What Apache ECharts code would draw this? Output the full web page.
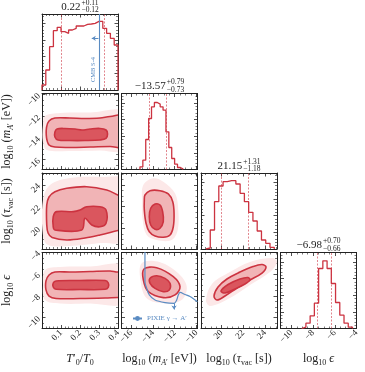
<!DOCTYPE html>
<html>
<head>
<meta charset="utf-8">
<script src="https://cdn.jsdelivr.net/npm/echarts@6/dist/echarts.min.js"></script>
<style>
  html, body { margin: 0; padding: 0; background: #fff; }
  #chart { width: 365px; height: 372px; }
</style>
</head>
<body>
<div id="chart"></div>
<script>
// ---- numbers ----
const medianText = ["0.22", "−13.57", "21.15", "−6.98"];
const medians = [0.22, -13.57, 21.15, -6.98];
const errPlus = [0.11, 0.79, 1.31, 0.70];
const errMinus = [0.12, 0.73, 1.18, 0.66];

// 1D histograms: first bin edge, bin width, heights
const tHistStart = 0, tHistWidth = 0.02;
const tHist = [15, 60, 130, 178, 188, 175, 170, 180, 185, 192, 192, 197, 198, 200, 206, 206, 185, 170, 155, 135];
const mHistStart = -15.2, mHistWidth = 0.266;
const mHist = [8, 28, 90, 153, 188, 201, 196, 188, 178, 113, 66, 33, 16, 6, 1];
const tauHistStart = 18.56, tauHistWidth = 0.393;
const tauHist = [3, 57, 142, 189, 202, 205, 205, 195, 167, 142, 110, 84, 54, 27, 17, 5];
const epsHistStart = -9.05, epsHistWidth = 0.39;
const epsHist = [4, 16, 38, 76, 180, 203, 180, 135, 78, 40, 16, 4];

// 2D contours (outer = 2 sigma, inner = 1 sigma, halo = cloud of samples)
const haloTM = [[0.437,-11.60],[0.253,-11.65],[0.095,-11.70],[0.016,-11.97],[0.005,-12.80],[0.005,-14.37],[0.026,-15.10],[0.147,-15.20],[0.305,-15.15],[0.437,-15.10]];
const outerTM = [[0.437,-11.97],[0.358,-12.02],[0.305,-12.16],[0.226,-12.20],[0.147,-12.16],[0.068,-12.16],[0.037,-12.43],[0.024,-12.99],[0.024,-14.00],[0.037,-14.64],[0.068,-14.83],[0.147,-14.87],[0.253,-14.83],[0.358,-14.78],[0.437,-14.78]];
const innerTM = [[0.068,-13.45],[0.079,-13.17],[0.121,-13.12],[0.174,-13.17],[0.211,-13.26],[0.253,-13.17],[0.305,-13.12],[0.337,-13.26],[0.345,-13.63],[0.337,-14.04],[0.305,-14.18],[0.226,-14.23],[0.147,-14.23],[0.084,-14.18],[0.068,-13.91]];

const haloTTau = [[0.437,24.46],[0.305,24.73],[0.147,24.64],[0.042,24.0],[0.005,22.61],[0.005,19.39],[0.032,18.47],[0.147,18.38],[0.305,18.65],[0.437,18.93]];
const outerTTau = [[0.437,22.80],[0.4,23.07],[0.341,23.53],[0.235,23.84],[0.130,23.69],[0.068,23.38],[0.037,22.89],[0.025,22.15],[0.025,20.31],[0.032,19.57],[0.053,19.16],[0.130,18.93],[0.226,19.11],[0.305,19.39],[0.4,19.80],[0.437,19.94]];
const innerTTau = [[0.068,19.85],[0.209,19.85],[0.226,20.93],[0.262,20.31],[0.305,20.15],[0.337,20.47],[0.337,21.69],[0.305,21.99],[0.235,21.99],[0.200,21.69],[0.165,21.54],[0.077,21.54],[0.059,21.08],[0.059,20.15]];

const haloTEps = [[0.437,-5.24],[0.253,-5.29],[0.095,-5.34],[0.016,-5.61],[0.005,-6.99],[0.016,-8.38],[0.095,-8.70],[0.253,-8.70],[0.437,-8.65]];
const outerTEps = [[0.437,-5.66],[0.4,-5.80],[0.358,-5.70],[0.253,-5.75],[0.147,-5.80],[0.068,-5.80],[0.037,-6.07],[0.021,-6.62],[0.021,-7.45],[0.037,-8.01],[0.074,-8.24],[0.2,-8.24],[0.332,-8.19],[0.4,-8.14],[0.437,-8.14]];
const innerTEps = [[0.059,-6.81],[0.074,-6.62],[0.2,-6.58],[0.332,-6.58],[0.349,-6.81],[0.349,-7.18],[0.332,-7.39],[0.2,-7.41],[0.074,-7.39],[0.059,-7.18]];

const haloMTau = [[-14.89,24.0],[-13.97,24.61],[-13.05,24.30],[-11.97,23.23],[-11.67,21.69],[-11.72,19.85],[-12.28,18.93],[-13.66,18.93],[-14.58,19.39],[-14.95,20.77],[-15.01,22.61]];
const outerMTau = [[-14.74,23.07],[-14.27,23.47],[-13.35,23.47],[-12.59,23.17],[-12.18,22.46],[-12.06,21.39],[-12.13,20.15],[-12.43,19.39],[-13.05,19.18],[-13.81,19.30],[-14.34,19.69],[-14.64,20.47],[-14.80,21.69],[-14.80,22.61]];
const innerMTau = [[-14.21,21.85],[-13.81,22.24],[-13.35,22.15],[-13.11,21.54],[-13.05,20.61],[-13.35,20.01],[-13.81,19.91],[-14.21,20.31],[-14.34,21.08]];

const haloMEps = [[-15.04,-4.99],[-13.35,-4.90],[-11.67,-5.92],[-10.89,-7.15],[-11.36,-8.38],[-13.05,-8.68],[-14.58,-8.22],[-15.13,-6.69]];
const outerMEps = [[-14.83,-5.52],[-13.66,-5.40],[-12.13,-6.23],[-11.51,-7.15],[-11.97,-7.91],[-13.05,-8.16],[-14.43,-7.61],[-14.89,-6.53]];
const innerMEps = [[-14.27,-6.38],[-13.66,-6.14],[-12.89,-6.38],[-12.43,-6.84],[-12.50,-7.45],[-13.05,-7.61],[-13.81,-7.30],[-14.27,-6.84]];

const haloTauEps = [[18.56,-8.38],[19.11,-6.90],[20.77,-5.80],[22.61,-4.88],[24.64,-4.51],[25.10,-4.88],[24.46,-5.80],[22.61,-6.99],[20.77,-8.19],[18.93,-8.93]];
const outerTauEps = [[19.30,-8.01],[19.67,-7.18],[20.49,-6.44],[21.69,-5.80],[22.89,-5.29],[23.72,-5.11],[24.09,-5.34],[23.72,-5.89],[22.61,-6.53],[21.42,-7.27],[20.31,-8.01],[19.57,-8.38]];
const innerTauEps = [[19.94,-7.55],[20.59,-6.95],[21.69,-6.44],[22.43,-6.30],[22.61,-6.53],[22.15,-6.90],[21.23,-7.36],[20.31,-7.73]];

// PIXIE gamma -> A' bound in the (m, eps) panel
const pixieM = [-14.74, -14.74, -14.58, -14.34, -13.81, -12.89, -12.06, -11.82, -11.67, -11.51, -11.05, -10.59, -9.90];
const pixieEps = [-3.77, -6.72, -7.30, -7.91, -8.38, -8.62, -8.68, -8.38, -7.91, -7.68, -7.87, -8.05, -8.53];
const pixieArrow = [[-12.06, -8.68], [-12.06, -9.25]];

// CMB S-4 line on T0'/T0
const cmbS4 = 0.3;
const cmbArrow = [[0.297, 155], [0.262, 155]];

// ---- styling / layout ----
const FONT = "'Liberation Serif', 'DejaVu Serif', serif";
const RED = "#cc3340";
const BLUE = "#5a8bc2";
const INK = "#222";
const LEFTS = [42, 121.5, 201, 280.5];
const TOPS = [14, 93.5, 173, 252.5];
const SIZE = 76;

const ranges = [
  { min: 0, max: 0.4, interval: 0.1, step: 0.1, minor: 5, digits: 1 },
  { min: -16.9, max: -9.9, splitNumber: 4, step: 2, minor: 4, digits: 0 },
  { min: 18.1, max: 25.1, splitNumber: 4, step: 2, minor: 4, digits: 0 },
  { min: -11, max: -4, splitNumber: 4, step: 2, minor: 4, digits: 0 },
];
const diagRange = { min: 0, max: 228, splitNumber: 4, minor: 5 };

const rich = {
  n: { fontFamily: FONT, fontSize: 12, lineHeight: 16, color: INK },
  i: { fontFamily: FONT, fontSize: 12, lineHeight: 16, fontStyle: "italic", color: INK },
  s: { fontFamily: FONT, fontSize: 8, lineHeight: 8, verticalAlign: "bottom", color: INK },
  si: { fontFamily: FONT, fontSize: 8, lineHeight: 8, verticalAlign: "bottom", fontStyle: "italic", color: INK },
};
const names = [
  "{i|T}{n|′}{s|0}{n|/}{i|T}{s|0}",
  "{n|log}{s|10}{n| (}{i|m}{si|A}{s|′}{n| [eV])}",
  "{n|log}{s|10}{n| (}{i|τ}{s|vac}{n| [s])}",
  "{n|log}{s|10}{n| }{i|ϵ}",
];

function fmt(r) {
  return (v) => {
    const q = v / r.step;
    if (Math.abs(q - Math.round(q)) > 1e-6) return "";
    return v.toFixed(r.digits).replace("-", "−");
  };
}

function axis(r, gridIndex, position, showLabels, name) {
  const isY = position === "left" || position === "right";
  return {
    type: "value",
    gridIndex,
    position,
    min: r.min,
    max: r.max,
    interval: r.interval,
    splitNumber: r.splitNumber,
    axisLine: { show: true, onZero: false, lineStyle: { color: INK, width: 1 } },
    axisTick: { show: true, inside: true, length: 3.5, lineStyle: { color: INK, width: 0.8 } },
    minorTick: { show: true, splitNumber: r.minor, length: 2, lineStyle: { color: INK, width: 0.6 } },
    splitLine: { show: false },
    axisLabel: {
      show: showLabels,
      rotate: 45,
      margin: 3,
      fontFamily: FONT,
      fontSize: 9,
      color: INK,
      showMinLabel: false,
      formatter: r.step ? fmt(r) : undefined,
    },
    name: name || "",
    nameLocation: "middle",
    nameGap: isY ? 27 : 22,
    nameTextStyle: { rich },
  };
}

function stepData(start, width, heights) {
  const pts = [[start, 0]];
  heights.forEach((h, k) => pts.push([start + k * width, h]));
  const end = start + heights.length * width;
  pts.push([end, heights[heights.length - 1]], [end, 0]);
  return pts;
}

const hists = [
  stepData(tHistStart, tHistWidth, tHist),
  stepData(mHistStart, mHistWidth, mHist),
  stepData(tauHistStart, tauHistWidth, tauHist),
  stepData(epsHistStart, epsHistWidth, epsHist),
];

const HALO = "#fce8e8", MID = "#f1b4b6", CORE = "#da565e";
const panels2d = {
  "1,0": [haloTM, outerTM, innerTM],
  "2,0": [haloTTau, outerTTau, innerTTau],
  "3,0": [haloTEps, outerTEps, innerTEps],
  "2,1": [haloMTau, outerMTau, innerMTau],
  "3,1": [haloMEps, outerMEps, innerMEps],
  "3,2": [haloTauEps, outerTauEps, innerTauEps],
};

const grids = [], xAxes = [], yAxes = [], series = [], graphics = [];
const gridOf = {};

for (let i = 0; i < 4; i++) {
  for (let j = 0; j <= i; j++) {
    const g = grids.length;
    gridOf[i + "," + j] = g;
    grids.push({ left: LEFTS[j], top: TOPS[i], width: SIZE, height: SIZE });
    const bottomRow = i === 3;
    xAxes.push(axis(ranges[j], g, "bottom", bottomRow, bottomRow ? names[j] : ""));
    xAxes.push(axis(ranges[j], g, "top", false));
    const yr = i === j ? diagRange : ranges[i];
    const leftCol = j === 0 && i > 0;
    yAxes.push(axis(yr, g, "left", leftCol, leftCol ? names[i] : ""));
    yAxes.push(axis(yr, g, "right", false));
  }
}

const ctx = document.createElement("canvas").getContext("2d");
function textW(str, size) {
  ctx.font = size + "px " + FONT;
  return ctx.measureText(str).width;
}

// diagonal histograms
for (let k = 0; k < 4; k++) {
  const g = gridOf[k + "," + k];
  const lo = medians[k] - errMinus[k];
  const hi = medians[k] + errPlus[k];
  const marks = [
    { xAxis: lo, lineStyle: { color: RED, width: 0.7, type: [2, 1.5], opacity: 0.85 } },
    { xAxis: hi, lineStyle: { color: RED, width: 0.7, type: [2, 1.5], opacity: 0.85 } },
  ];
  if (k === 0) {
    marks.push({
      xAxis: cmbS4,
      lineStyle: { color: BLUE, width: 1.1, type: "solid" },
      label: {
        show: true,
        formatter: "CMB S-4",
        position: "insideStartTop",
        distance: [8, 2],
        color: BLUE,
        fontFamily: FONT,
        fontSize: 6.5,
      },
    });
    marks.push([
      { coord: cmbArrow[0], symbol: "none", lineStyle: { color: BLUE, width: 1, type: "solid" } },
      { coord: cmbArrow[1], symbol: "arrow", symbolSize: 4 },
    ]);
  }
  series.push({
    type: "line",
    xAxisIndex: 2 * g,
    yAxisIndex: 2 * g,
    data: hists[k],
    step: "end",
    symbol: "none",
    silent: true,
    lineStyle: { color: RED, width: 1.3 },
    z: 3,
    markLine: {
      silent: true,
      symbol: ["none", "none"],
      label: { show: false },
      animation: false,
      data: marks,
    },
  });

  // title: median with +/- errors
  const top = TOPS[k];
  const cx = LEFTS[k] + SIZE / 2;
  const sup = "+" + errPlus[k].toFixed(2);
  const sub = "−" + errMinus[k].toFixed(2);
  const w1 = textW(medianText[k], 11);
  const w2 = Math.max(textW(sup, 7.5), textW(sub, 7.5));
  const x0 = cx - (w1 + 1 + w2) / 2;
  const mk = (txt, x, y, size) => ({
    type: "text",
    x, y,
    silent: true,
    style: {
      text: txt,
      font: size + "px " + FONT,
      fill: INK,
      align: "left",
      verticalAlign: "middle",
      textAlign: "left",
      textVerticalAlign: "middle",
    },
  });
  graphics.push(mk(medianText[k], x0, top - 7, 11));
  graphics.push(mk(sup, x0 + w1 + 1, top - 11, 7.5));
  graphics.push(mk(sub, x0 + w1 + 1, top - 3.5, 7.5));
}

// 2D panels
Object.keys(panels2d).forEach((key) => {
  const g = gridOf[key];
  const [halo, outer, inner] = panels2d[key];
  const layers = [
    { pts: halo, fill: HALO },
    { pts: outer, fill: MID, stroke: RED },
    { pts: inner, fill: CORE, stroke: RED },
  ];
  series.push({
    type: "custom",
    coordinateSystem: "cartesian2d",
    xAxisIndex: 2 * g,
    yAxisIndex: 2 * g,
    silent: true,
    z: 2,
    data: layers.map((L, idx) => {
      const cxv = L.pts.reduce((s, p) => s + p[0], 0) / L.pts.length;
      const cyv = L.pts.reduce((s, p) => s + p[1], 0) / L.pts.length;
      return [cxv, cyv, idx];
    }),
    renderItem(params, api) {
      const L = layers[api.value(2)];
      const cs = params.coordSys;
      return {
        type: "polygon",
        shape: { points: L.pts.map((p) => api.coord(p)), smooth: 0.35 },
        style: { fill: L.fill, stroke: L.stroke || null, lineWidth: L.stroke ? 1.6 : 0 },
        clipPath: { type: "rect", shape: { x: cs.x, y: cs.y, width: cs.width, height: cs.height } },
      };
    },
  });
});

// PIXIE bound
const gME = gridOf["3,1"];
series.push({
  name: "PIXIE γ → A′",
  type: "line",
  xAxisIndex: 2 * gME,
  yAxisIndex: 2 * gME,
  data: pixieM.map((m, k) => [m, pixieEps[k]]),
  smooth: 0.3,
  symbol: "none",
  silent: true,
  z: 5,
  lineStyle: { color: BLUE, width: 1.2 },
  itemStyle: { color: BLUE },
  markLine: {
    silent: true,
    animation: false,
    label: { show: false },
    data: [[
      { coord: pixieArrow[0], symbol: "none", lineStyle: { color: BLUE, width: 1, type: "solid" } },
      { coord: pixieArrow[1], symbol: "arrow", symbolSize: 4 },
    ]],
  },
});

const chart = echarts.init(document.getElementById("chart"), null, { renderer: "canvas" });
chart.setOption({
  animation: false,
  backgroundColor: "#fff",
  textStyle: { fontFamily: FONT },
  grid: grids,
  xAxis: xAxes,
  yAxis: yAxes,
  legend: {
    data: ["PIXIE γ → A′"],
    left: 132,
    top: 315,
    padding: 0,
    itemWidth: 9,
    itemHeight: 6,
    selectedMode: false,
    textStyle: { fontFamily: FONT, fontSize: 7, color: BLUE },
  },
  graphic: graphics,
  series,
});
</script>
</body>
</html>
